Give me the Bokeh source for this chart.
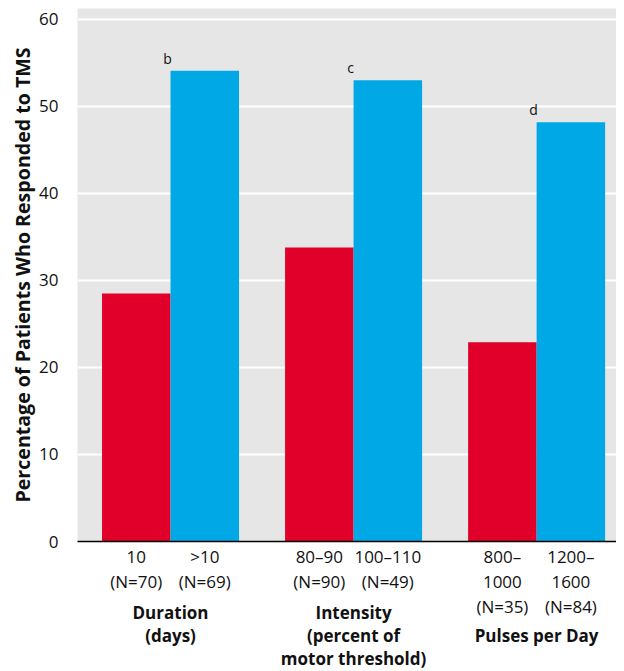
from bokeh.plotting import figure
from bokeh.models import Range1d, FixedTicker, LinearAxis, ColumnDataSource
from bokeh.core.properties import value
from bokeh.embed import file_html
from bokeh.resources import INLINE

# ---- data ----
group_labels = ["Duration\n(days)", "Intensity\n(percent of\nmotor threshold)", "\nPulses per Day"]
low_labels = ["10\n(N=70)", "80–90\n(N=90)", "800–\n1000\n(N=35)"]
high_labels = [">10\n(N=69)", "100–110\n(N=49)", "1200–\n1600\n(N=84)"]
low_values = [28.5, 33.8, 22.9]
high_values = [54.1, 53.0, 48.2]
sig_marks = ["b", "c", "d"]
y_ticks = [0, 10, 20, 30, 40, 50, 60]
y_title = "Percentage of Patients Who Responded to TMS"

# ---- layout constants ----
STEP = 2.672
BAR_W = 1.0
FONT = "Open Sans"
RED = "#e00029"
BLUE = "#00a8e6"
INK = "#111111"

n = len(low_values)
centers = [i * STEP for i in range(n)]
low_x = [c - BAR_W / 2 for c in centers]
high_x = [c + BAR_W / 2 for c in centers]

p = figure(frame_width=539, frame_height=533,
           x_range=Range1d(-1.358, 6.51), y_range=Range1d(0, 61.26),
           output_backend="svg", toolbar_location=None,
           min_border_left=77, min_border_right=0, min_border_top=8, min_border_bottom=4)
p.background_fill_color = "#e6e6e6"
p.border_fill_color = "white"
p.outline_line_color = None

p.vbar(x=low_x, top=low_values, width=BAR_W, bottom=0, fill_color=RED, line_color=None)
p.vbar(x=high_x, top=high_values, width=BAR_W, bottom=0, fill_color=BLUE, line_color=None)

src = ColumnDataSource(dict(x=centers, y=high_values, t=sig_marks))
p.text(x="x", y="y", text="t", source=src, text_align="center", text_baseline="bottom",
       x_offset=-3, y_offset=-3, text_font=value(FONT), text_font_size="14px", text_color=INK)

# grid
p.xgrid.grid_line_color = None
p.ygrid.ticker = FixedTicker(ticks=y_ticks)
p.ygrid.grid_line_color = "white"
p.ygrid.grid_line_width = 2

# y axis
p.yaxis.ticker = FixedTicker(ticks=y_ticks)
p.yaxis.axis_line_color = None
p.yaxis.major_tick_line_color = None
p.yaxis.minor_tick_line_color = None
p.yaxis.major_tick_out = 0
p.yaxis.major_tick_in = 0
p.yaxis.major_label_standoff = 19
p.yaxis.major_label_text_font = FONT
p.yaxis.major_label_text_font_size = "17px"
p.yaxis.major_label_text_color = INK
p.yaxis.axis_label = y_title
p.yaxis.axis_label_text_font = FONT
p.yaxis.axis_label_text_font_size = "19.6px"
p.yaxis.axis_label_text_font_style = "bold"
p.yaxis.axis_label_text_color = INK
p.yaxis.axis_label_standoff = 0

# x axis (bar labels)
tick_pos = []
overrides = {}
for i in range(n):
    tick_pos += [low_x[i], high_x[i]]
    overrides[low_x[i]] = low_labels[i]
    overrides[high_x[i]] = high_labels[i]
xa = p.xaxis[0]
xa.ticker = FixedTicker(ticks=tick_pos)
xa.major_label_overrides = overrides
xa.axis_line_color = "black"
xa.axis_line_width = 1.5
xa.major_tick_line_color = None
xa.minor_tick_line_color = None
xa.major_tick_out = 0
xa.major_tick_in = 0
xa.major_label_standoff = 3
xa.major_label_text_font = FONT
xa.major_label_text_font_size = "17px"
xa.major_label_text_color = INK
xa.major_label_text_line_height = 1.1

# group labels axis
ga = LinearAxis(ticker=FixedTicker(ticks=centers),
                major_label_overrides={centers[i]: group_labels[i] for i in range(n)})
ga.axis_line_color = None
ga.major_tick_line_color = None
ga.minor_tick_line_color = None
ga.major_tick_out = 0
ga.major_tick_in = 0
ga.major_label_standoff = -21
ga.major_label_text_font = FONT
ga.major_label_text_font_size = "17px"
ga.major_label_text_font_style = "bold"
ga.major_label_text_color = INK
ga.major_label_text_line_height = 1.0
p.add_layout(ga, "below")

open("out.html", "w").write(file_html(p, INLINE))
